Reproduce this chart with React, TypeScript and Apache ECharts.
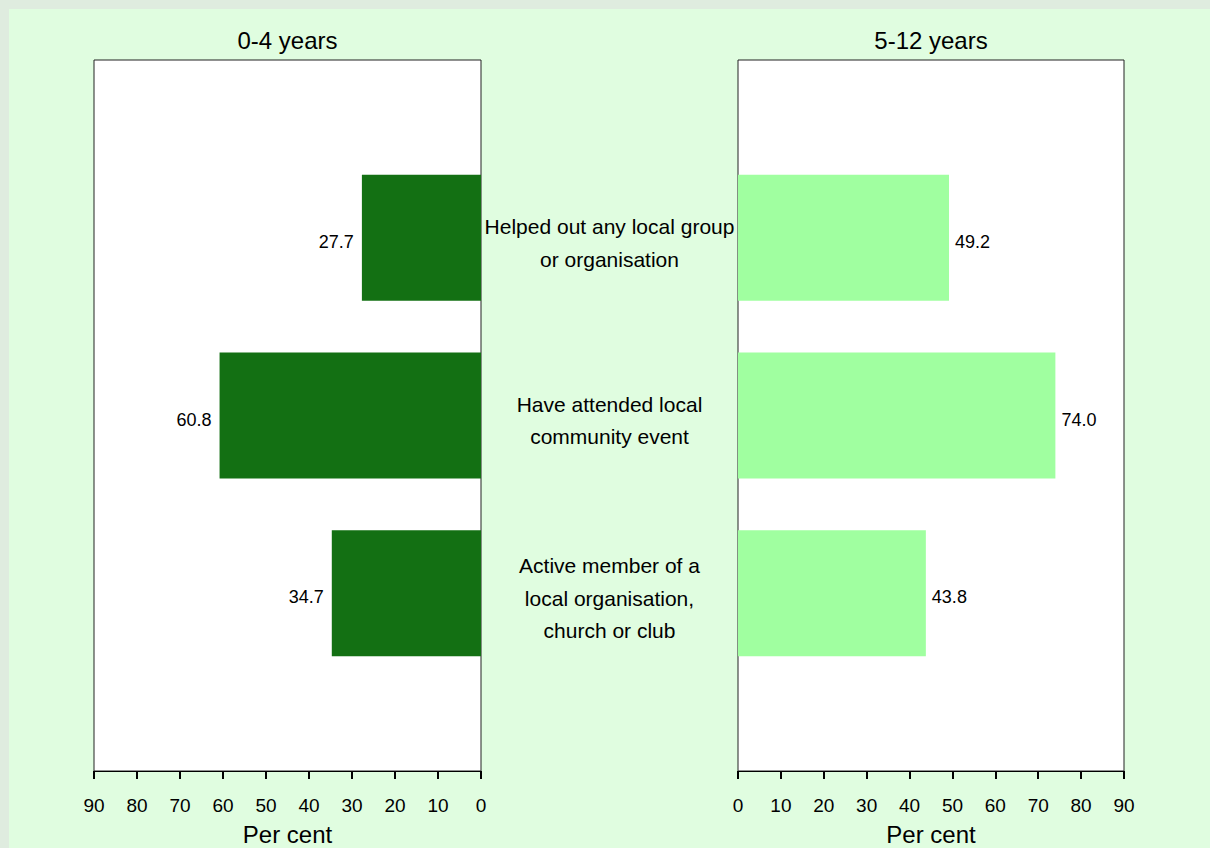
import React, { useEffect, useRef } from "react";
import * as echarts from "echarts";

// Category slots: empty first and last slots give the reference's spacing
const categories = [
  "",
  "Helped out any local group\nor organisation",
  "Have attended local\ncommunity event",
  "Active member of a\nlocal organisation,\nchurch or club",
  "",
];
const values0to4 = [null, 27.7, 60.8, 34.7, null];
const values5to12 = [null, 49.2, 74.0, 43.8, null];
const panelTitles = ["0-4 years", "5-12 years"];
const axisName = "Per cent";
const axisMax = 90;
const axisInterval = 10;

const FONT = "'Liberation Sans', Arial, Helvetica, sans-serif";

export default function App() {
  const ref = useRef<HTMLDivElement>(null);

  useEffect(() => {
    if (!ref.current) return;
    const chart = echarts.init(ref.current, undefined, { renderer: "svg" });

    const xAxisCommon = {
      type: "value" as const,
      min: 0,
      max: axisMax,
      interval: axisInterval,
      splitLine: { show: false },
      axisLine: { show: true, lineStyle: { color: "#000", width: 1 } },
      axisTick: { show: true, length: 8, lineStyle: { color: "#000", width: 2 } },
      axisLabel: { color: "#000", fontSize: 19, fontFamily: FONT, margin: 25 },
      name: axisName,
      nameLocation: "middle" as const,
      nameGap: 51,
      nameTextStyle: { color: "#000", fontSize: 24, fontFamily: FONT },
    };

    const hiddenCat = {
      type: "category" as const,
      data: categories,
      inverse: true,
      boundaryGap: false,
      axisLine: { show: false },
      axisTick: { show: false },
      axisLabel: { show: false },
      splitLine: { show: false },
    };

    const valueLabel = {
      show: true,
      color: "#000",
      fontSize: 18,
      fontFamily: FONT,
      offset: [0, 4],
      formatter: (p: any) => Number(p.value).toFixed(1),
    };

    const option = {
      animation: false,
      backgroundColor: "#e0fde0",
      textStyle: { fontFamily: FONT },
      graphic: [
        {
          type: "rect",
          silent: true,
          shape: { x: 0, y: 0, width: 1210, height: 9 },
          style: { fill: "#dfecdf" },
        },
        {
          type: "rect",
          silent: true,
          shape: { x: 0, y: 0, width: 9, height: 848 },
          style: { fill: "#dfecdf" },
        },
      ],
      title: [
        {
          text: panelTitles[0],
          left: 287.5,
          top: 28,
          textAlign: "center",
          padding: 0,
          textStyle: { color: "#000", fontSize: 24, fontWeight: "normal", fontFamily: FONT },
        },
        {
          text: panelTitles[1],
          left: 931,
          top: 28,
          textAlign: "center",
          padding: 0,
          textStyle: { color: "#000", fontSize: 24, fontWeight: "normal", fontFamily: FONT },
        },
      ],
      grid: [
        {
          left: 94,
          top: 60,
          width: 387,
          height: 711,
          outerBoundsMode: "none",
          containLabel: false,
          show: true,
          backgroundColor: "#fff",
          borderColor: "#222",
          borderWidth: 1,
        },
        {
          left: 738,
          top: 60,
          width: 386,
          height: 711,
          outerBoundsMode: "none",
          containLabel: false,
          show: true,
          backgroundColor: "#fff",
          borderColor: "#222",
          borderWidth: 1,
        },
        // label-only grid between the panels
        {
          left: 609.5,
          top: 65,
          width: 1,
          height: 711,
          outerBoundsMode: "none",
          containLabel: false,
          show: false,
        },
      ],
      xAxis: [
        { ...xAxisCommon, gridIndex: 0, inverse: true },
        { ...xAxisCommon, gridIndex: 1 },
        { type: "value", gridIndex: 2, show: false, min: 0, max: 1 },
      ],
      yAxis: [
        { ...hiddenCat, gridIndex: 0 },
        { ...hiddenCat, gridIndex: 1 },
        {
          ...hiddenCat,
          gridIndex: 2,
          position: "left",
          axisLabel: {
            show: true,
            interval: 0,
            align: "center",
            margin: 0,
            color: "#000",
            fontSize: 21,
            lineHeight: 32.5,
            fontFamily: FONT,
          },
        },
      ],
      series: [
        {
          name: panelTitles[0],
          type: "bar",
          xAxisIndex: 0,
          yAxisIndex: 0,
          data: values0to4,
          barWidth: 126,
          itemStyle: { color: "#137013" },
          label: { ...valueLabel, position: "left", distance: 8 },
        },
        {
          name: panelTitles[1],
          type: "bar",
          xAxisIndex: 1,
          yAxisIndex: 1,
          data: values5to12,
          barWidth: 126,
          itemStyle: { color: "#a0ffa0" },
          label: { ...valueLabel, position: "right", distance: 6 },
        },
      ],
    };

    chart.setOption(option as any);
    return () => chart.dispose();
  }, []);

  return (
    <div
      ref={ref}
      style={{ position: "absolute", left: 0, top: 0, width: 1210, height: 848 }}
    />
  );
}
